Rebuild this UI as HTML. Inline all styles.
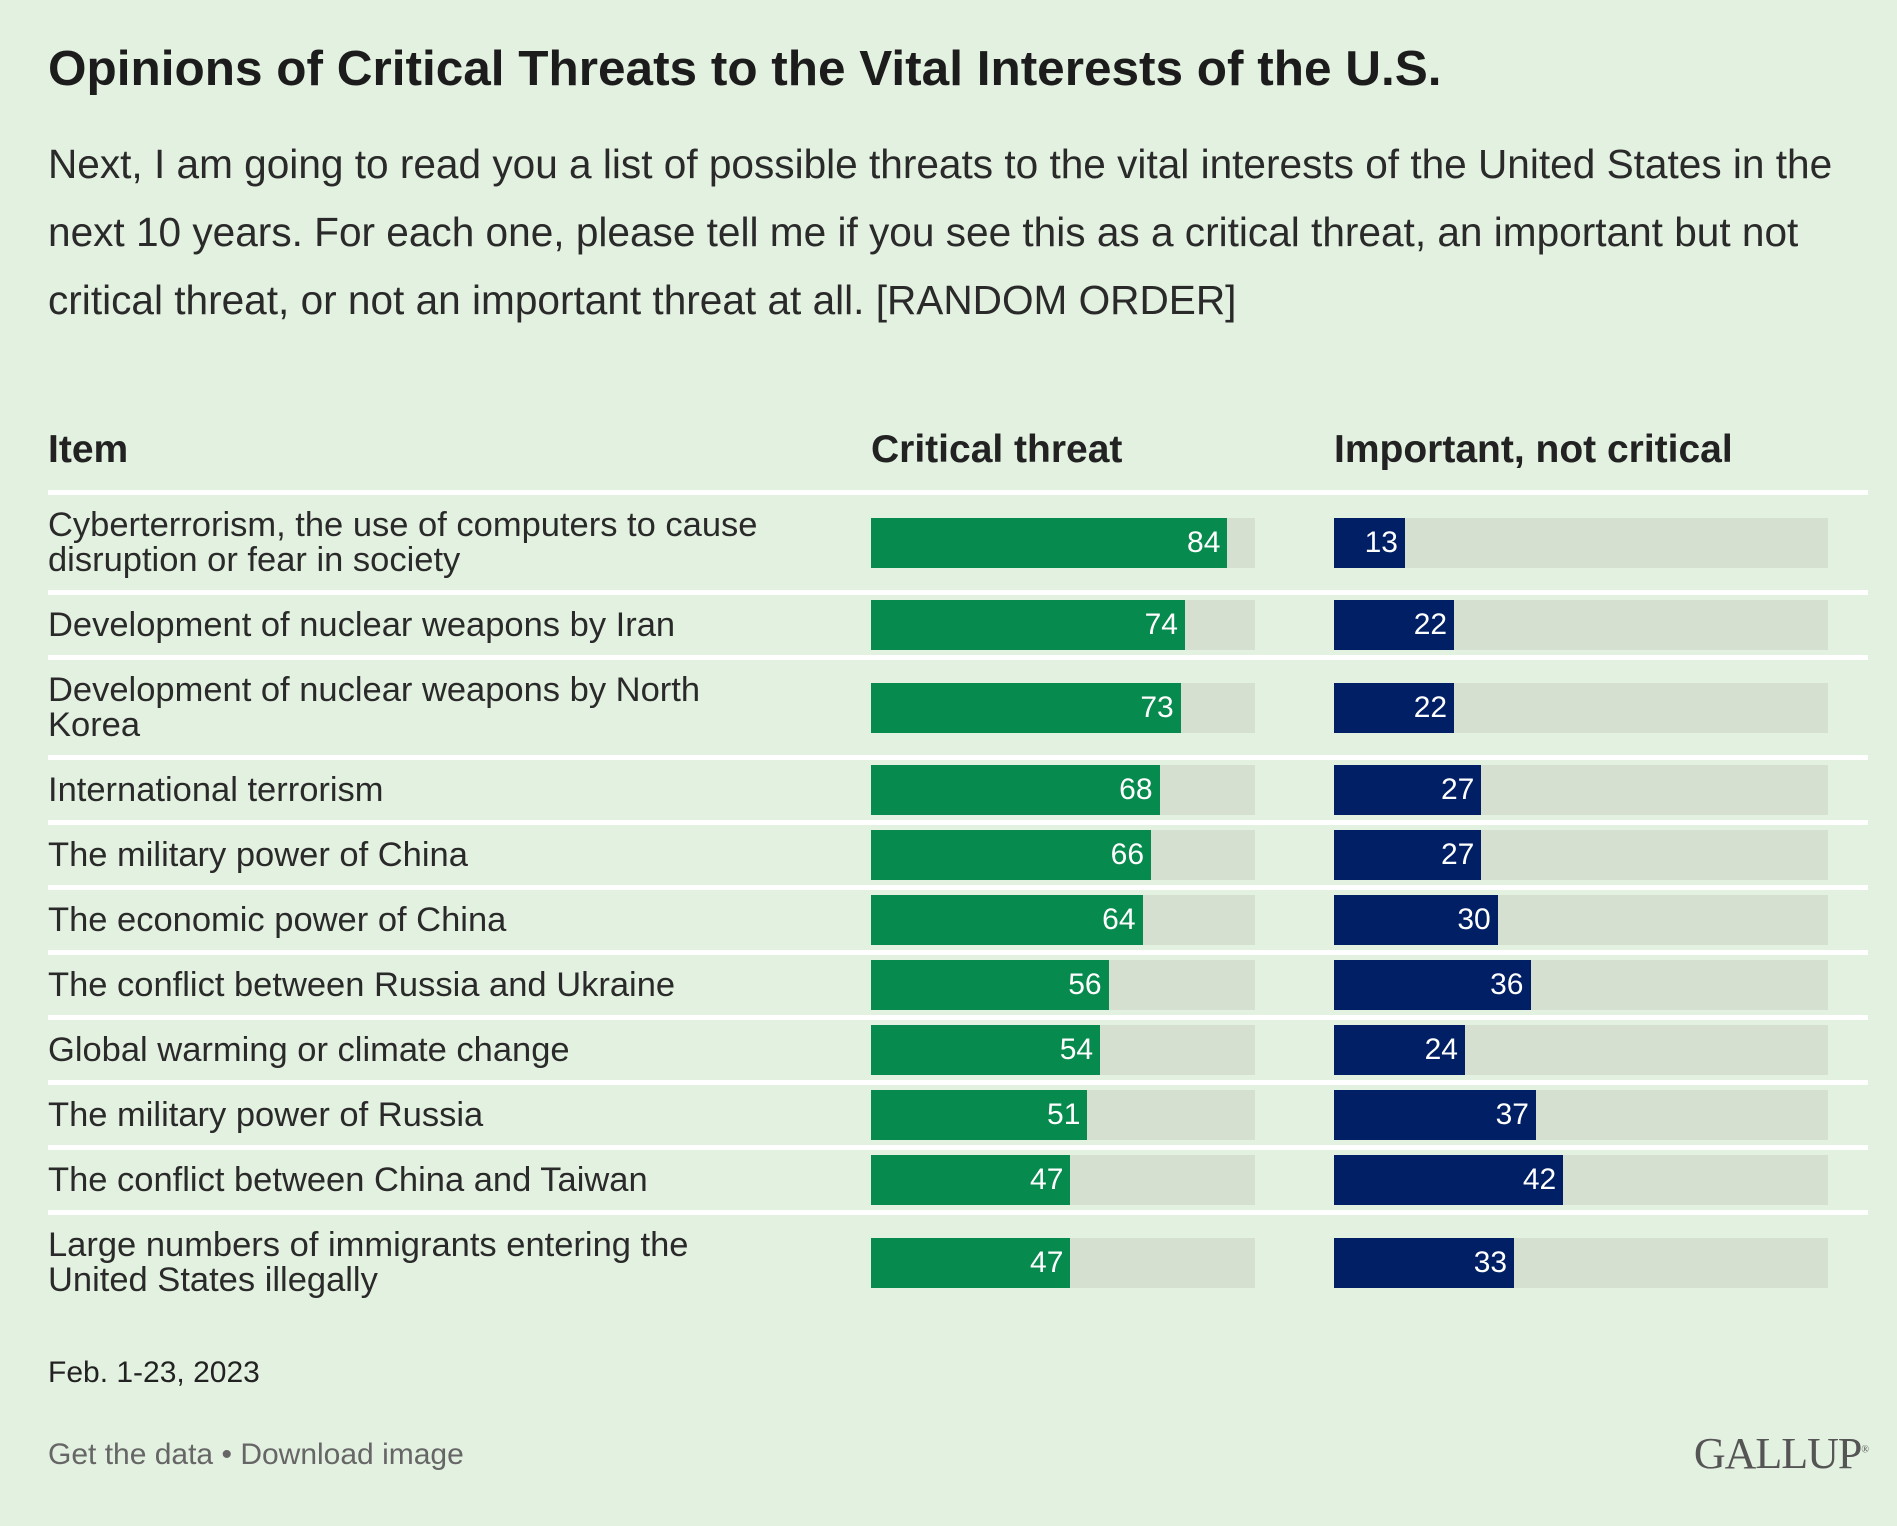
<!DOCTYPE html>
<html><head><meta charset="utf-8">
<style>
body{margin:0;background:#e3f1e0;font-family:"Liberation Sans",sans-serif;color:#222;}
#wrap{position:relative;width:1897px;height:1526px;overflow:hidden;background:#e3f1e0;}
.abs{position:absolute;}
#title{left:48px;top:40px;font-size:49.5px;font-weight:bold;color:#1c1c1c;white-space:nowrap;}
#sub{left:48px;top:130px;font-size:40.6px;line-height:68px;color:#2a2a2a;white-space:nowrap;}
.hdr{top:428px;font-size:39px;font-weight:bold;color:#222;white-space:nowrap;}
.sep{left:48px;width:1820px;height:5px;background:#fff;}
.lbl{left:48px;font-size:34.5px;line-height:35px;color:#2a2a2a;white-space:nowrap;}
.track{background:#d5e0d0;height:50px;}
.bar{height:50px;}
.val{color:#fff;font-size:30px;line-height:50px;text-align:right;}
</style></head><body>
<div id="wrap">
<div id="title" class="abs">Opinions of Critical Threats to the Vital Interests of the U.S.</div>
<div id="sub" class="abs">Next, I am going to read you a list of possible threats to the vital interests of the United States in the<br>next 10 years. For each one, please tell me if you see this as a critical threat, an important but not<br>critical threat, or not an important threat at all. [RANDOM ORDER]</div>
<div class="abs hdr" style="left:48px">Item</div>
<div class="abs hdr" style="left:871px">Critical threat</div>
<div class="abs hdr" style="left:1334px">Important, not critical</div>
<div id="rows"></div>
<div class="abs" style="left:48px;top:1356px;font-size:30px;color:#222">Feb. 1-23, 2023</div>
<div class="abs" style="left:48px;top:1438px;font-size:30px;color:#666"><span>Get the data</span> • <span>Download image</span></div>
<div class="abs" style="right:29px;top:1428px;font-family:'Liberation Serif',serif;font-size:44px;color:#555;letter-spacing:-1px">GALLUP<sup style="font-size:10px">®</sup></div>
</div>
<script>
const categories=["Cyberterrorism, the use of computers to cause|disruption or fear in society","Development of nuclear weapons by Iran","Development of nuclear weapons by North|Korea","International terrorism","The military power of China","The economic power of China","The conflict between Russia and Ukraine","Global warming or climate change","The military power of Russia","The conflict between China and Taiwan","Large numbers of immigrants entering the|United States illegally"];
const criticalValues=[84,74,73,68,66,64,56,54,51,47,47];
const importantValues=[13,22,22,27,27,30,36,24,37,42,33];
const domainMax=90.5;
const rows=document.getElementById('rows');
const g={x:871,w:384},b={x:1334,w:494};
function sx(v,w){return v/domainMax*w;}
function mk(cls,style){const d=document.createElement('div');d.className='abs '+cls;d.style.cssText=style;rows.appendChild(d);return d;}
let y=490;
categories.forEach((c,i)=>{
  const s=mk('sep','top:'+y+'px');
  
  
  y+=5;
  const parts=c.split('|');
  const two=parts.length>1;
  const h=two?95:60;
  const by=y+(h-50)/2;
  const l=mk('lbl','top:'+(by+25-(two?35:17.5))+'px');
  l.innerHTML=parts.join('<br>');
  
  
  [[g,criticalValues[i],'#078a4d','critical'],[b,importantValues[i],'#001f64','important']].forEach(([ax,v,col,n])=>{
    const t=mk('track','left:'+ax.x+'px;top:'+by+'px;width:'+ax.w+'px');
    
    
    const w=sx(v,ax.w);
    const br=mk('bar','left:'+ax.x+'px;top:'+by+'px;width:'+w+'px;background:'+col);
    
    
    const vl=mk('val','left:'+ax.x+'px;top:'+by+'px;width:'+(w-7)+'px');
    vl.textContent=v;
    
    
  });
  y+=h;
});
</script>
</body></html>
